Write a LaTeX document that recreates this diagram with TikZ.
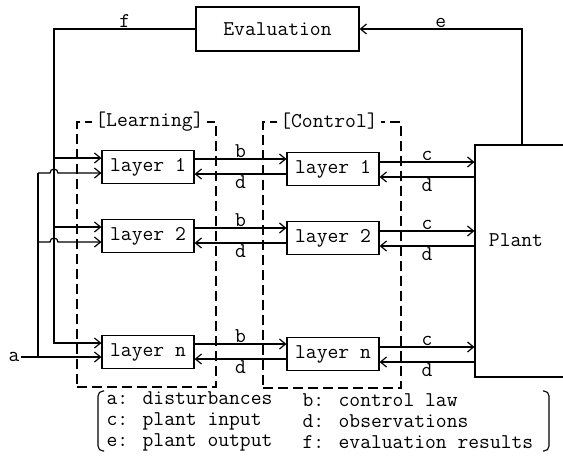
\documentclass[tikz,border=0pt]{standalone}
\usetikzlibrary{arrows.meta, positioning, calc}
\newcommand{\tyfont}{\fontsize{21}{19}\selectfont\ttfamily}
\newcommand{\legfont}{\fontsize{21}{21}\selectfont\ttfamily}

\begin{document}
\begin{tikzpicture}[x=1pt, y=-1pt, line width=1.2pt,
  >={Straight Barb[length=6pt, width=10pt]},
  lbox/.style={draw, minimum width=92pt, minimum height=33pt, inner sep=0pt, font=\tyfont},
  grp/.style={draw, dash pattern=on 10pt off 5pt, line width=1.3pt},
  glabel/.style={fill=white, inner sep=3pt, font=\tyfont},
  sig/.style={font=\tyfont, inner sep=1pt}
]
  \useasboundingbox (0,0) rectangle (563,471);
  \node[grp, minimum width=139pt, minimum height=265pt] (learn) at (146.5,254.5) {};
  \node[grp, minimum width=138pt, minimum height=266pt] (ctrl) at (332,255) {};
  \node[glabel] (learnname) at ([xshift=3pt]learn.north) {[Learning]};
  \node[glabel] (ctrlname) at ([xshift=-3pt]ctrl.north) {[Control]};

  \node[draw, minimum width=163pt, minimum height=44pt, font=\tyfont] (eval) at (277.5,29) {Evaluation};
  \node[draw, minimum width=94pt, minimum height=232pt, label={[font=\tyfont, xshift=-6pt, yshift=21pt]center:Plant}] (plant) at (522,261) {};

  \node[lbox] (L1) at (148,167) {layer 1};
  \node[lbox] (L2) at (148,236) {layer 2};
  \node[lbox] (Ln) at (148,352) {layer n};
  \node[lbox] (C1) at (333,169) {layer 1};
  \node[lbox] (C2) at (333,238) {layer 2};
  \node[lbox] (Cn) at (333,354) {layer n};
  \node[sig] (alab) at (14,357) {a};

  \coordinate (f1) at (54,158);
  \coordinate (f2) at (54,227);
  \coordinate (fn) at (54,343);
  \coordinate (a1) at (38,173);
  \coordinate (a2) at (38,242);
  \coordinate (an) at (38,357);

  \draw[->] (eval.west) -| node[sig, above, pos=0.25] {f} (fn) -- (Ln.west |- fn);
  \draw[->] (f1) -- (L1.west |- f1);
  \draw[->] (f2) -- (L2.west |- f2);
  \draw[->] (alab) -- (Ln.west |- an);
  \draw (an) -- (a1);
  \draw[->] (a1) -- ++(12,0) arc[start angle=180, end angle=0, radius=4pt] -- (L1.west |- a1);
  \draw[->] (a2) -- ++(12,0) arc[start angle=180, end angle=0, radius=4pt] -- (L2.west |- a2);
  \draw[->] (plant.north) |- node[sig, above, pos=0.75] {e} (eval.east);

  \draw[->] ([yshift=8pt]L1.east) -- ([yshift=8pt]L1.east -| C1.west) node[sig, midway, above] {b};
  \draw[<-] ([yshift=-7pt]L1.east) -- ([yshift=-7pt]L1.east -| C1.west) node[sig, midway, below] {d};
  \draw[->] ([yshift=8pt]L2.east) -- ([yshift=8pt]L2.east -| C2.west) node[sig, midway, above] {b};
  \draw[<-] ([yshift=-7pt]L2.east) -- ([yshift=-7pt]L2.east -| C2.west) node[sig, midway, below] {d};
  \draw[->] ([yshift=8pt]Ln.east) -- ([yshift=8pt]Ln.east -| Cn.west) node[sig, midway, above] {b};
  \draw[<-] ([yshift=-7pt]Ln.east) -- ([yshift=-7pt]Ln.east -| Cn.west) node[sig, midway, below] {d};

  \draw[->] ([yshift=5pt]L1.east -| C1.east) -- ([yshift=5pt]L1.east -| plant.west) node[sig, midway, above] {c};
  \draw[<-] ([yshift=-10pt]L1.east -| C1.east) -- ([yshift=-10pt]L1.east -| plant.west) node[sig, midway, below] {d};
  \draw[->] ([yshift=5pt]L2.east -| C2.east) -- ([yshift=5pt]L2.east -| plant.west) node[sig, midway, above] {c};
  \draw[<-] ([yshift=-10pt]L2.east -| C2.east) -- ([yshift=-10pt]L2.east -| plant.west) node[sig, midway, below] {d};
  \draw[->] ([yshift=5pt]Ln.east -| Cn.east) -- ([yshift=5pt]Ln.east -| plant.west) node[sig, midway, above] {c};
  \draw[<-] ([yshift=-10pt]Ln.east -| Cn.east) -- ([yshift=-10pt]Ln.east -| plant.west) node[sig, midway, below] {d};

  \node[font=\legfont, align=left, anchor=west, inner sep=0pt] (legl) at (106,421) {a: disturbances\\c: plant input\\e: plant output};
  \node[font=\legfont, align=left, anchor=west, inner sep=0pt] (legr) at (302,421) {b: control law\\d: observations\\f: evaluation results};
  \draw[line width=1.1pt, rounded corners=5pt] (104,391) -- (98,391) -- (98,451) -- (104,451);
  \draw[line width=1.1pt, rounded corners=5pt] (543,391) -- (549,391) -- (549,451) -- (543,451);
\end{tikzpicture}
\end{document}
